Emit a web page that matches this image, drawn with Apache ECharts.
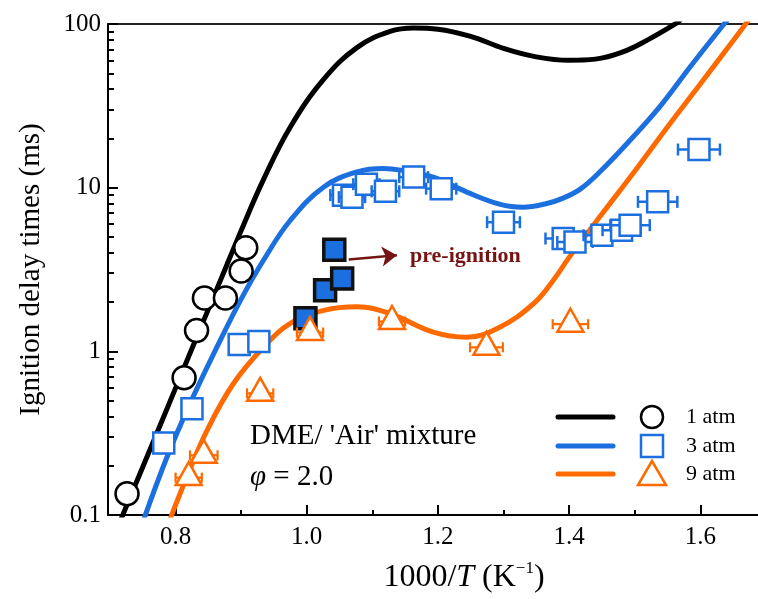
<!DOCTYPE html>
<html>
<head>
<meta charset="utf-8">
<script src="https://cdn.jsdelivr.net/npm/echarts@6/dist/echarts.min.js"></script>
<style>
  html, body { margin: 0; padding: 0; background: #fff; }
  #main { width: 758px; height: 599px; }
</style>
</head>
<body>
<div id="main"></div>
<script>
// tick values
const xMajor = [0.8, 1.0, 1.2, 1.4, 1.6];
const xMinor = [0.9, 1.1, 1.3, 1.5];
const yMinor = [0.2, 0.3, 0.4, 0.5, 0.6, 0.7, 0.8, 0.9, 2, 3, 4, 5, 6, 7, 8, 9, 20, 30, 40, 50, 60, 70, 80, 90];

// measurements: [1000/T, tau (ms)] ; squares/triangles also carry x error
const atm1 = [[0.726, 0.135], [0.813, 0.69], [0.832, 1.34], [0.844, 2.12], [0.876, 2.12], [0.900, 3.1], [0.907, 4.3]];
const atm3 = [[0.782, 0.275, 0.015], [0.825, 0.446, 0.015], [0.897, 1.10, 0.015], [0.927, 1.15, 0.015],
  [1.056, 9.0, 0.02], [1.069, 8.75, 0.02], [1.091, 10.5, 0.02], [1.120, 9.5, 0.021], [1.163, 11.6, 0.022],
  [1.205, 9.86, 0.023], [1.300, 6.15, 0.025], [1.391, 4.89, 0.027], [1.409, 4.66, 0.027], [1.450, 5.12, 0.028],
  [1.480, 5.5, 0.029], [1.493, 5.9, 0.03], [1.535, 8.19, 0.03], [1.598, 17.1, 0.032]];
const atm9 = [[0.820, 0.179, 0.02], [0.843, 0.245, 0.021], [0.929, 0.586, 0.02], [1.005, 1.38, 0.02],
  [1.130, 1.61, 0.02], [1.274, 1.12, 0.025], [1.402, 1.55, 0.027]];
const preIgn = [[0.998, 1.59], [1.028, 2.36], [1.054, 2.79], [1.042, 4.18]];

// model curves
const model1 = [[0.715, 0.0905], [0.76, 0.245], [0.80, 0.596], [0.84, 1.45], [0.87, 2.81], [0.899, 5.35],
  [0.934, 11.2], [0.975, 23.5], [1.026, 46], [1.077, 72], [1.127, 90], [1.163, 94.5], [1.20, 93], [1.25, 84],
  [1.30, 71], [1.35, 63], [1.40, 60], [1.44, 61], [1.48, 67], [1.52, 80], [1.56, 99], [1.57, 106]];
const model3 = [[0.752, 0.095], [0.787, 0.226], [0.822, 0.479], [0.863, 1.06], [0.899, 2.05], [0.934, 3.60],
  [0.975, 6.32], [1.026, 10.1], [1.077, 12.5], [1.117, 13.1], [1.143, 12.8], [1.193, 11.6], [1.244, 9.4],
  [1.295, 7.9], [1.330, 7.6], [1.366, 8.0], [1.39, 8.6], [1.417, 9.8], [1.447, 12.5], [1.493, 19.5],
  [1.539, 31.5], [1.585, 55], [1.635, 98.6], [1.642, 106]];
const model9 = [[0.792, 0.095], [0.817, 0.170], [0.848, 0.329], [0.888, 0.634], [0.934, 1.06], [0.975, 1.48],
  [1.026, 1.78], [1.077, 1.87], [1.127, 1.70], [1.193, 1.31], [1.244, 1.22], [1.295, 1.41], [1.346, 1.96],
  [1.376, 2.72], [1.40, 3.75], [1.45, 6.9], [1.50, 12.6], [1.55, 23.5], [1.60, 43], [1.65, 79], [1.668, 98.6],
  [1.675, 108]];

// arrow to the pre-ignition label
const arrowFrom = [1.064, 3.64];
const arrowTo = [1.1375, 3.87];

const BLACK = '#000';
const BLUE = '#1c6fdf';
const ORANGE = '#ff6a00';
const DARKRED = '#761414';
const FONT = '"Liberation Serif", "DejaVu Serif", serif';

var myChart = echarts.init(document.getElementById('main'));

const renderSquare = (params, api) => {
  const x = api.value(0), y = api.value(1), e = api.value(2);
  const c = api.coord([x, y]);
  const l = api.coord([x - e, y])[0], r = api.coord([x + e, y])[0];
  const s = 10.5, cap = 6;
  const st = { stroke: BLUE, lineWidth: 2.5, fill: null };
  return {
    type: 'group',
    children: [
      { type: 'line', shape: { x1: l, y1: c[1], x2: r, y2: c[1] }, style: st },
      { type: 'line', shape: { x1: l, y1: c[1] - cap, x2: l, y2: c[1] + cap }, style: st },
      { type: 'line', shape: { x1: r, y1: c[1] - cap, x2: r, y2: c[1] + cap }, style: st },
      { type: 'rect', shape: { x: c[0] - s, y: c[1] - s, width: 2 * s, height: 2 * s },
        style: { fill: '#fff', stroke: BLUE, lineWidth: 2.5 } }
    ]
  };
};

const renderTriangle = (params, api) => {
  const x = api.value(0), y = api.value(1), e = api.value(2);
  const c = api.coord([x, y]);
  const l = api.coord([x - e, y])[0], r = api.coord([x + e, y])[0];
  const w = 26, h = 23, cap = 5, yb = c[1] + 4;
  const st = { stroke: ORANGE, lineWidth: 2.2, fill: null };
  return {
    type: 'group',
    children: [
      { type: 'line', shape: { x1: l, y1: yb, x2: r, y2: yb }, style: st },
      { type: 'line', shape: { x1: l, y1: yb - cap, x2: l, y2: yb + cap }, style: st },
      { type: 'line', shape: { x1: r, y1: yb - cap, x2: r, y2: yb + cap }, style: st },
      { type: 'polygon', shape: { points: [[c[0], c[1] - h / 2], [c[0] - w / 2, c[1] + h / 2], [c[0] + w / 2, c[1] + h / 2]] },
        style: { fill: '#fff', stroke: ORANGE, lineWidth: 2.5 } }
    ]
  };
};

const modelLine = (data, color) => ({
  type: 'line',
  data: data,
  smooth: 0.4,
  showSymbol: false,
  clip: true,
  z: 2,
  lineStyle: { color: color, width: 5 }
});

const axisMin = 0.697, axisMax = 1.688;

const option = {
  animation: false,
  backgroundColor: '#fff',
  grid: { left: 108, right: 0, top: 24, bottom: 84, containLabel: false },
  xAxis: [
    {
      type: 'value', min: axisMin, max: axisMax, position: 'bottom',
      axisLine: { onZero: false, lineStyle: { color: BLACK, width: 2 } },
      axisTick: { inside: true, length: 10, customValues: xMajor, lineStyle: { color: BLACK, width: 2 } },
      axisLabel: { customValues: xMajor, formatter: v => v.toFixed(1), color: BLACK, fontSize: 25, fontFamily: FONT, margin: 10 },
      splitLine: { show: false }
    },
    {
      type: 'value', min: axisMin, max: axisMax, position: 'bottom',
      axisLine: { show: false, onZero: false },
      axisTick: { inside: true, length: 5, customValues: xMinor, lineStyle: { color: BLACK, width: 2 } },
      axisLabel: { show: false },
      splitLine: { show: false }
    },
    {
      type: 'value', min: axisMin, max: axisMax, position: 'top',
      axisLine: { onZero: false, lineStyle: { color: '#222', width: 2 } },
      axisTick: { show: false }, axisLabel: { show: false }, splitLine: { show: false }
    }
  ],
  yAxis: [
    {
      type: 'log', logBase: 10, min: 0.1, max: 100,
      name: 'Ignition delay times (ms)', nameLocation: 'middle', nameGap: 62,
      nameTextStyle: { color: BLACK, fontSize: 29, fontFamily: FONT },
      axisLine: { onZero: false, lineStyle: { color: BLACK, width: 2 } },
      axisTick: { inside: true, length: 10, lineStyle: { color: BLACK, width: 2 } },
      axisLabel: { color: BLACK, fontSize: 25, fontFamily: FONT, margin: 7 },
      splitLine: { show: false }
    },
    {
      type: 'log', logBase: 10, min: 0.1, max: 100, position: 'left',
      axisLine: { show: false, onZero: false },
      axisTick: { inside: true, length: 6, customValues: yMinor, lineStyle: { color: BLACK, width: 2 } },
      axisLabel: { show: false },
      splitLine: { show: false }
    }
  ],
  series: [
    modelLine(model1, BLACK),
    modelLine(model3, BLUE),
    modelLine(model9, ORANGE),
    {
      type: 'scatter', data: atm1, symbol: 'circle', symbolSize: 23, z: 3,
      itemStyle: { color: '#fff', borderColor: BLACK, borderWidth: 2.5, opacity: 1 }
    },
    {
      type: 'custom', data: atm3, renderItem: renderSquare, z: 3,
      encode: { x: 0, y: 1 }
    },
    {
      type: 'scatter', data: preIgn, symbol: 'rect', symbolSize: 21, z: 4,
      itemStyle: { color: BLUE, borderColor: '#111', borderWidth: 3.5, opacity: 1 },
      markLine: {
        silent: true, symbol: ['none', 'arrow'], symbolSize: 15,
        label: { show: false },
        lineStyle: { color: DARKRED, width: 2.5, type: 'solid' },
        data: [[{ coord: arrowFrom }, { coord: arrowTo }]]
      }
    },
    {
      type: 'custom', data: atm9, renderItem: renderTriangle, z: 5,
      encode: { x: 0, y: 1 }
    }
  ],
  graphic: [
    // x axis title
    {
      type: 'text', x: 464, y: 578, z: 10,
      style: {
        text: '1000/{i|T} (K{sup|\u22121})', align: 'center', verticalAlign: 'middle',
        fill: BLACK, font: '32px ' + FONT,
        rich: {
          i: { fontStyle: 'italic', fontSize: 32, fontFamily: FONT, lineHeight: 36 },
          sup: { fontSize: 17, fontFamily: FONT, verticalAlign: 'top', lineHeight: 17 }
        }
      }
    },
    // mixture annotation
    {
      type: 'text', x: 250, y: 436, z: 10,
      style: { text: "DME/ 'Air' mixture", verticalAlign: 'middle', fill: BLACK, font: '29px ' + FONT }
    },
    {
      type: 'text', x: 250, y: 477, z: 10,
      style: {
        text: '{i|\u03c6} = 2.0', verticalAlign: 'middle', fill: BLACK, font: '29px ' + FONT,
        rich: { i: { fontStyle: 'italic', fontSize: 29, fontFamily: FONT } }
      }
    },
    {
      type: 'text', x: 410, y: 256, z: 10,
      style: { text: 'pre-ignition', verticalAlign: 'middle', fill: DARKRED, font: 'bold 22px ' + FONT }
    },
    // legend
    { type: 'line', shape: { x1: 558, y1: 417, x2: 613, y2: 417 }, style: { stroke: BLACK, lineWidth: 5, lineCap: 'round' }, z: 10 },
    { type: 'line', shape: { x1: 558, y1: 446, x2: 613, y2: 446 }, style: { stroke: BLUE, lineWidth: 5, lineCap: 'round' }, z: 10 },
    { type: 'line', shape: { x1: 558, y1: 474, x2: 613, y2: 474 }, style: { stroke: ORANGE, lineWidth: 5, lineCap: 'round' }, z: 10 },
    { type: 'circle', shape: { cx: 652, cy: 417, r: 11 }, style: { fill: '#fff', stroke: BLACK, lineWidth: 2.5 }, z: 10 },
    { type: 'rect', shape: { x: 641, y: 435, width: 22, height: 22 }, style: { fill: '#fff', stroke: BLUE, lineWidth: 2.5 }, z: 10 },
    { type: 'polygon', shape: { points: [[652, 461], [638, 485], [666, 485]] }, style: { fill: '#fff', stroke: ORANGE, lineWidth: 2.5 }, z: 10 },
    { type: 'text', x: 686, y: 417, z: 10, style: { text: '1 atm', verticalAlign: 'middle', fill: BLACK, font: '22px ' + FONT } },
    { type: 'text', x: 686, y: 446, z: 10, style: { text: '3 atm', verticalAlign: 'middle', fill: BLACK, font: '22px ' + FONT } },
    { type: 'text', x: 686, y: 474, z: 10, style: { text: '9 atm', verticalAlign: 'middle', fill: BLACK, font: '22px ' + FONT } }
  ]
};

myChart.setOption(option);
</script>
</body>
</html>
